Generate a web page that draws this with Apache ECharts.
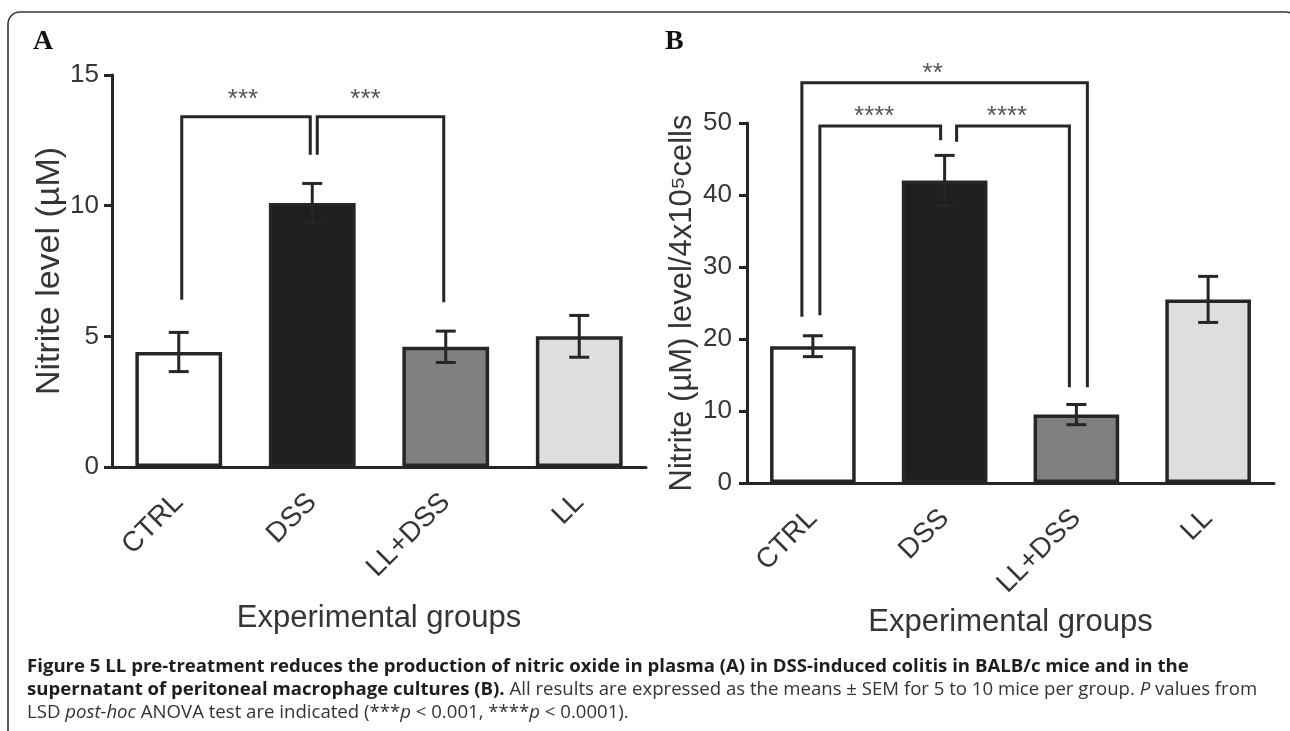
<!DOCTYPE html>
<html><head><meta charset="utf-8">
<script src="https://cdn.jsdelivr.net/npm/echarts@6/dist/echarts.min.js"></script>
<style>html,body{margin:0;padding:0;background:#fff}#c{width:1290px;height:731px}</style>
</head><body><div id="c"></div>
<script>
// ---- data ----
const categories = ['CTRL', 'DSS', 'LL+DSS', 'LL'];
const plasmaMeans = [4.4, 10.1, 4.6, 5.0];
const plasmaSem = [0.75, 0.75, 0.6, 0.8];
const macroMeans = [19.0, 42.0, 9.5, 25.5];
const macroSem = [1.45, 3.5, 1.4, 3.2];
const plasmaTicks = [0, 5, 10, 15];
const macroTicks = [0, 10, 20, 30, 40, 50];
// brackets: [fromIndex, toIndex, topValue, fromBottomValue, toBottomValue, starValue]
const plasmaBrackets = [[0, 1, 13.4, 6.4, 11.95, 14.3], [1, 2, 13.4, 11.95, 6.3, 14.3]];
const plasmaStars = ['***', '***'];
const macroBrackets = [[0, 2, 55.6, 23.1, 13.3, 57.8], [0, 1, 49.6, 23.3, 47.6, 51.8], [1, 2, 49.6, 47.4, 13.3, 51.8]];
const macroStars = ['**', '****', '****'];

// ---- styles ----
const barColors = ['#ffffff', '#1e1f21', '#7f817f', '#dedede'];
const ink = '#262626';
const txt = '#353535';
const plasmaBracketOffsets = [[3, -2, -3], [5, -2, -15]];
const macroBracketOffsets = [[-11, 11, -12], [7, -4, -6], [12, -7, -6]];
const sans = 'Liberation Sans';

const chart = echarts.init(document.getElementById('c'));

function barSeries(idx, means) {
  return {
    type: 'bar', xAxisIndex: idx, yAxisIndex: idx, barWidth: '65%', z: 2,
    data: means.map((v, i) => ({ value: v, itemStyle: { color: barColors[i], borderColor: ink, borderWidth: 3.5 } })),
    silent: true
  };
}
function errSeries(idx, means, sem) {
  return {
    type: 'custom', xAxisIndex: idx, yAxisIndex: idx, z: 4, silent: true,
    data: means.map((m, i) => [i, m, sem[i]]),
    renderItem(params, api) {
      const x = api.value(0), m = api.value(1), e = api.value(2);
      const t = api.coord([x, m + e]), b = api.coord([x, m - e]);
      const cx = t[0], st = { stroke: ink, lineWidth: 3 };
      return { type: 'group', children: [
        { type: 'line', shape: { x1: cx, y1: t[1], x2: cx, y2: b[1] }, style: st },
        { type: 'line', shape: { x1: cx - 10, y1: t[1], x2: cx + 10, y2: t[1] }, style: st },
        { type: 'line', shape: { x1: cx - 10, y1: b[1], x2: cx + 10, y2: b[1] }, style: st }
      ] };
    }
  };
}
function bracketSeries(idx, brackets, stars, offs) {
  return {
    type: 'custom', xAxisIndex: idx, yAxisIndex: idx, z: 5, silent: true, clip: false,
    data: brackets,
    renderItem(params, api) {
      const i = params.dataIndex, o = offs[i];
      const a = api.coord([api.value(0), api.value(2)]);
      const b = api.coord([api.value(1), api.value(2)]);
      const ab = api.coord([api.value(0), api.value(3)]);
      const bb = api.coord([api.value(1), api.value(4)]);
      const s = api.coord([api.value(0), api.value(5)]);
      const xa = a[0] + o[0], xb = b[0] + o[1];
      return { type: 'group', children: [
        { type: 'polyline', shape: { points: [[xa, ab[1]], [xa, a[1]], [xb, b[1]], [xb, bb[1]]] },
          style: { stroke: ink, lineWidth: 3, fill: null, lineJoin: 'miter' } },
        { type: 'text', style: { text: stars[i], x: (xa + xb) / 2 + o[2], y: s[1] + 7, align: 'center', verticalAlign: 'middle',
          font: '26px "Liberation Sans"', fill: '#555' } }
      ] };
    }
  };
}
function xAxis(idx, gap) {
  return {
    type: 'category', gridIndex: idx, data: categories,
    name: 'Experimental groups', nameLocation: 'middle', nameGap: gap,
    nameTextStyle: { fontFamily: sans, fontSize: 31, color: txt },
    axisLine: { lineStyle: { color: ink, width: 3 } },
    axisTick: { alignWithLabel: true, length: 11, lineStyle: { color: ink, width: 3 } },
    axisLabel: { rotate: 45, margin: 31, fontFamily: sans, fontSize: 28, color: txt },
    splitLine: { show: false }
  };
}
function yAxis(idx, ticks, name, gap, margin, nameSize) {
  return {
    type: 'value', gridIndex: idx, min: ticks[0], max: ticks[ticks.length - 1], interval: ticks[1] - ticks[0],
    name, nameLocation: 'middle', nameGap: gap,
    nameTextStyle: { fontFamily: sans, fontSize: nameSize, color: txt },
    axisLine: { show: true, lineStyle: { color: ink, width: 3 } },
    axisTick: { show: true, length: 8, lineStyle: { color: ink, width: 3 } },
    axisLabel: { margin, fontFamily: sans, fontSize: 26, color: txt },
    splitLine: { show: false }
  };
}

const capFont = '"Open Sans"';
const capSize = 18.6;
chart.setOption({
  animation: false,
  backgroundColor: '#fff',
  grid: [
    { left: 112, top: 75, width: 534, height: 392 },
    { left: 747, top: 123, width: 527, height: 360 }
  ],
  xAxis: [xAxis(0, 136), xAxis(1, 124)],
  yAxis: [yAxis(0, plasmaTicks, 'Nitrite level (µM)', 43, 13, 34), yAxis(1, macroTicks, 'Nitrite (µM) level/4x10⁵cells', 49, 15, 31)],
  series: [
    barSeries(0, plasmaMeans), errSeries(0, plasmaMeans, plasmaSem), bracketSeries(0, plasmaBrackets, plasmaStars, plasmaBracketOffsets),
    barSeries(1, macroMeans), errSeries(1, macroMeans, macroSem), bracketSeries(1, macroBrackets, macroStars, macroBracketOffsets)
  ],
  graphic: [
    { type: 'rect', silent: true, shape: { x: 8, y: 12, width: 1290, height: 800, r: [12, 12, 0, 0] },
      style: { stroke: '#333', lineWidth: 1.6, fill: 'none' } },
    { type: 'text', left: 33, top: 28, style: { text: 'A', font: 'bold 28px "Liberation Serif"', fill: '#111' } },
    { type: 'text', left: 665, top: 28, style: { text: 'B', font: 'bold 28px "Liberation Serif"', fill: '#111' } },
    { type: 'text', x: 27, y: 667, style: { verticalAlign: 'middle',
      text: '{b|Figure 5 LL pre-treatment reduces the production of nitric oxide in plasma (A) in DSS-induced colitis in BALB/c mice and in the}',
      rich: { b: { fontFamily: capFont, fontWeight: 'bold', fontSize: capSize, fill: '#1e1e1e' } } } },
    { type: 'text', x: 27, y: 690, style: { verticalAlign: 'middle',
      text: '{b|supernatant of peritoneal macrophage cultures (B).}{r| All results are expressed as the means ± SEM for 5 to 10 mice per group. }{i|P}{r| values from}',
      rich: {
        b: { fontFamily: capFont, fontWeight: 'bold', fontSize: capSize, fill: '#1e1e1e' },
        r: { fontFamily: capFont, fontSize: capSize, fill: '#333' },
        i: { fontFamily: capFont, fontStyle: 'italic', fontSize: capSize, fill: '#333' }
      } } },
    { type: 'text', x: 27, y: 713, style: { verticalAlign: 'middle',
      text: '{r|LSD }{i|post-hoc}{r| ANOVA test are indicated (***}{i|p}{r| < 0.001, ****}{i|p}{r| < 0.0001).}',
      rich: {
        r: { fontFamily: capFont, fontSize: capSize, fill: '#333' },
        i: { fontFamily: capFont, fontStyle: 'italic', fontSize: capSize, fill: '#333' }
      } } }
  ]
});
</script></body></html>
